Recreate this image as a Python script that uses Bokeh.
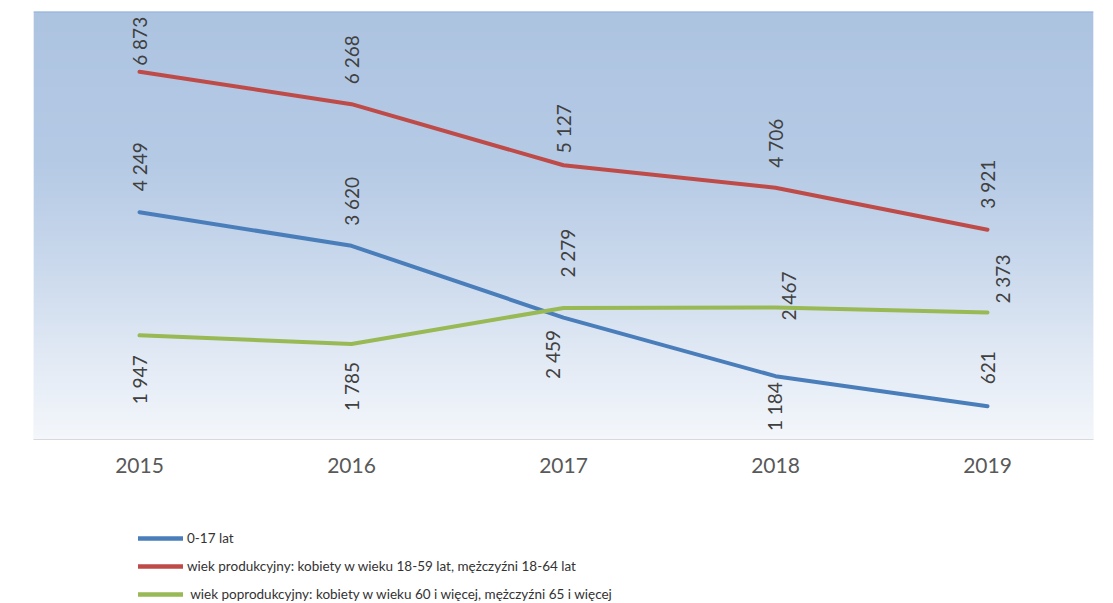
import numpy as np
from bokeh.plotting import figure
from bokeh.layouts import column
from bokeh.models import (ColumnDataSource, Legend, LegendItem, Span, FixedTicker, Range1d)
from bokeh.core.properties import value
from bokeh.embed import file_html
from bokeh.resources import INLINE

# ---------------- data ----------------
years = [2015, 2016, 2017, 2018, 2019]
year_labels = ["2015", "2016", "2017", "2018", "2019"]
age_0_17 = [4249, 3620, 2279, 1184, 621]
working_age = [6873, 6268, 5127, 4706, 3921]
post_working = [1947, 1785, 2459, 2467, 2373]
series_names = [
    "0-17 lat",
    "wiek produkcyjny: kobiety w wieku 18-59 lat, mężczyźni 18-64 lat",
    " wiek poprodukcyjny: kobiety w wieku 60 i więcej, mężczyźni 65 i więcej",
]

# ---------------- style ----------------
colors = ["#4A7EBB", "#BE4B48", "#98B954"]
FONT = "Lato"
# data-label placement: side of line, gap (px), horizontal shift (px)
label_side = [
    ["above", "above", "above", "below", "above"],
    ["above", "above", "above", "above", "above"],
    ["below", "below", "below", "above", "above"],
]
label_gap = [
    [21, 20, 40, 6, 22],
    [6, 20, 12, 20, 21],
    [20, 18, 22, -13, 9],
]
label_dx = [
    [0, 0, 4, -1, 0],
    [0, 0, 0, 0, 0],
    [0, 0, -11, 13, 15],
]


def fmt(v):
    return f"{v:,}".replace(",", " ")


p = figure(width=1113, height=490,
           x_range=Range1d(2014.5, 2019.5), y_range=Range1d(0, 8000),
           output_backend="svg", toolbar_location=None,
           y_axis_location=None,
           min_border_left=33, min_border_right=20,
           min_border_top=11, min_border_bottom=51)

p.background_fill_color = "#F3F6FB"
p.border_fill_color = "white"
p.outline_line_color = None
p.xgrid.visible = False
p.ygrid.visible = False

# plot-area gradient (top blue to near white)
stops_f = [0.0, 0.35, 0.58, 0.81, 1.0]
stops_c = [(173, 196, 225), (181, 202, 229), (201, 216, 236), (226, 234, 245), (244, 247, 251)]
n = 256
t = np.linspace(0, 1, n)
img = np.empty((n, 1), dtype=np.uint32)
view = img.view(dtype=np.uint8).reshape((n, 1, 4))
for k in range(3):
    view[:, 0, k] = np.interp(t, stops_f, [c[k] for c in stops_c]).astype(np.uint8)
view[:, 0, 3] = 255
p.image_rgba(image=[img[::-1]], x=2014.5, y=0, dw=5, dh=8000)

p.add_layout(Span(location=8000, dimension="width", line_color="#8FB1DD", line_width=2))

# x axis
ax = p.xaxis[0]
ax.ticker = FixedTicker(ticks=years)
ax.major_label_overrides = {y: s for y, s in zip(years, year_labels)}
ax.axis_line_color = "#D9D9D9"
ax.axis_line_width = 1
ax.major_tick_line_color = None
ax.major_tick_out = 0
ax.major_tick_in = 0
ax.minor_tick_line_color = None
ax.minor_tick_out = 0
ax.major_label_standoff = 18
ax.major_label_text_font = FONT
ax.major_label_text_font_size = "21px"
ax.major_label_text_color = "#595959"

# lines
all_series = [age_0_17, working_age, post_working]
for vals, col in zip(all_series, colors):
    p.line(x=years, y=vals, line_color=col, line_width=4,
           line_cap="round", line_join="round")

# data labels
for side_name, align in (("above", "left"), ("below", "right")):
    xs, ys, txt, xo, yo = [], [], [], [], []
    for si, vals in enumerate(all_series):
        for i, v in enumerate(vals):
            if label_side[si][i] != side_name:
                continue
            xs.append(years[i])
            ys.append(v)
            txt.append(fmt(v))
            xo.append(label_dx[si][i])
            g = label_gap[si][i]
            yo.append(-g if side_name == "above" else g)
    src = ColumnDataSource(dict(x=xs, y=ys, text=txt, xo=xo, yo=yo))
    p.text(x="x", y="y", text="text", source=src, angle=np.pi / 2,
           x_offset="xo", y_offset="yo",
           text_align=align, text_baseline="middle",
           text_font=value(FONT), text_font_size="19px", text_color="#404040")

# legend in its own strip below the chart (legend-key renderers sit outside the visible range)
lg = figure(width=1113, height=113, x_range=Range1d(0, 1), y_range=Range1d(0, 1),
            output_backend="svg", toolbar_location=None,
            x_axis_location=None, y_axis_location=None,
            min_border_left=0, min_border_right=0, min_border_top=0, min_border_bottom=0)
lg.outline_line_color = None
lg.xgrid.visible = False
lg.ygrid.visible = False
lg.background_fill_color = "white"
lg.border_fill_color = "white"
leg_renderers = [lg.line(x=[-3, -2], y=[-3, -3], line_color=col, line_width=4.5, line_cap="round")
                 for col in colors]
legend = Legend(
    items=[LegendItem(label=value(nm), renderers=[r]) for nm, r in zip(series_names, leg_renderers)],
    location=(105, 0), orientation="vertical",
    glyph_width=45, glyph_height=18, label_height=18, spacing=10,
    padding=0, margin=0, label_standoff=4,
    label_text_font=FONT, label_text_font_size="13.5px", label_text_color="#333333",
    border_line_color=None, background_fill_alpha=0,
)
lg.add_layout(legend)

layout = column(p, lg, spacing=0)
open("out.html", "w").write(file_html(layout, INLINE))
